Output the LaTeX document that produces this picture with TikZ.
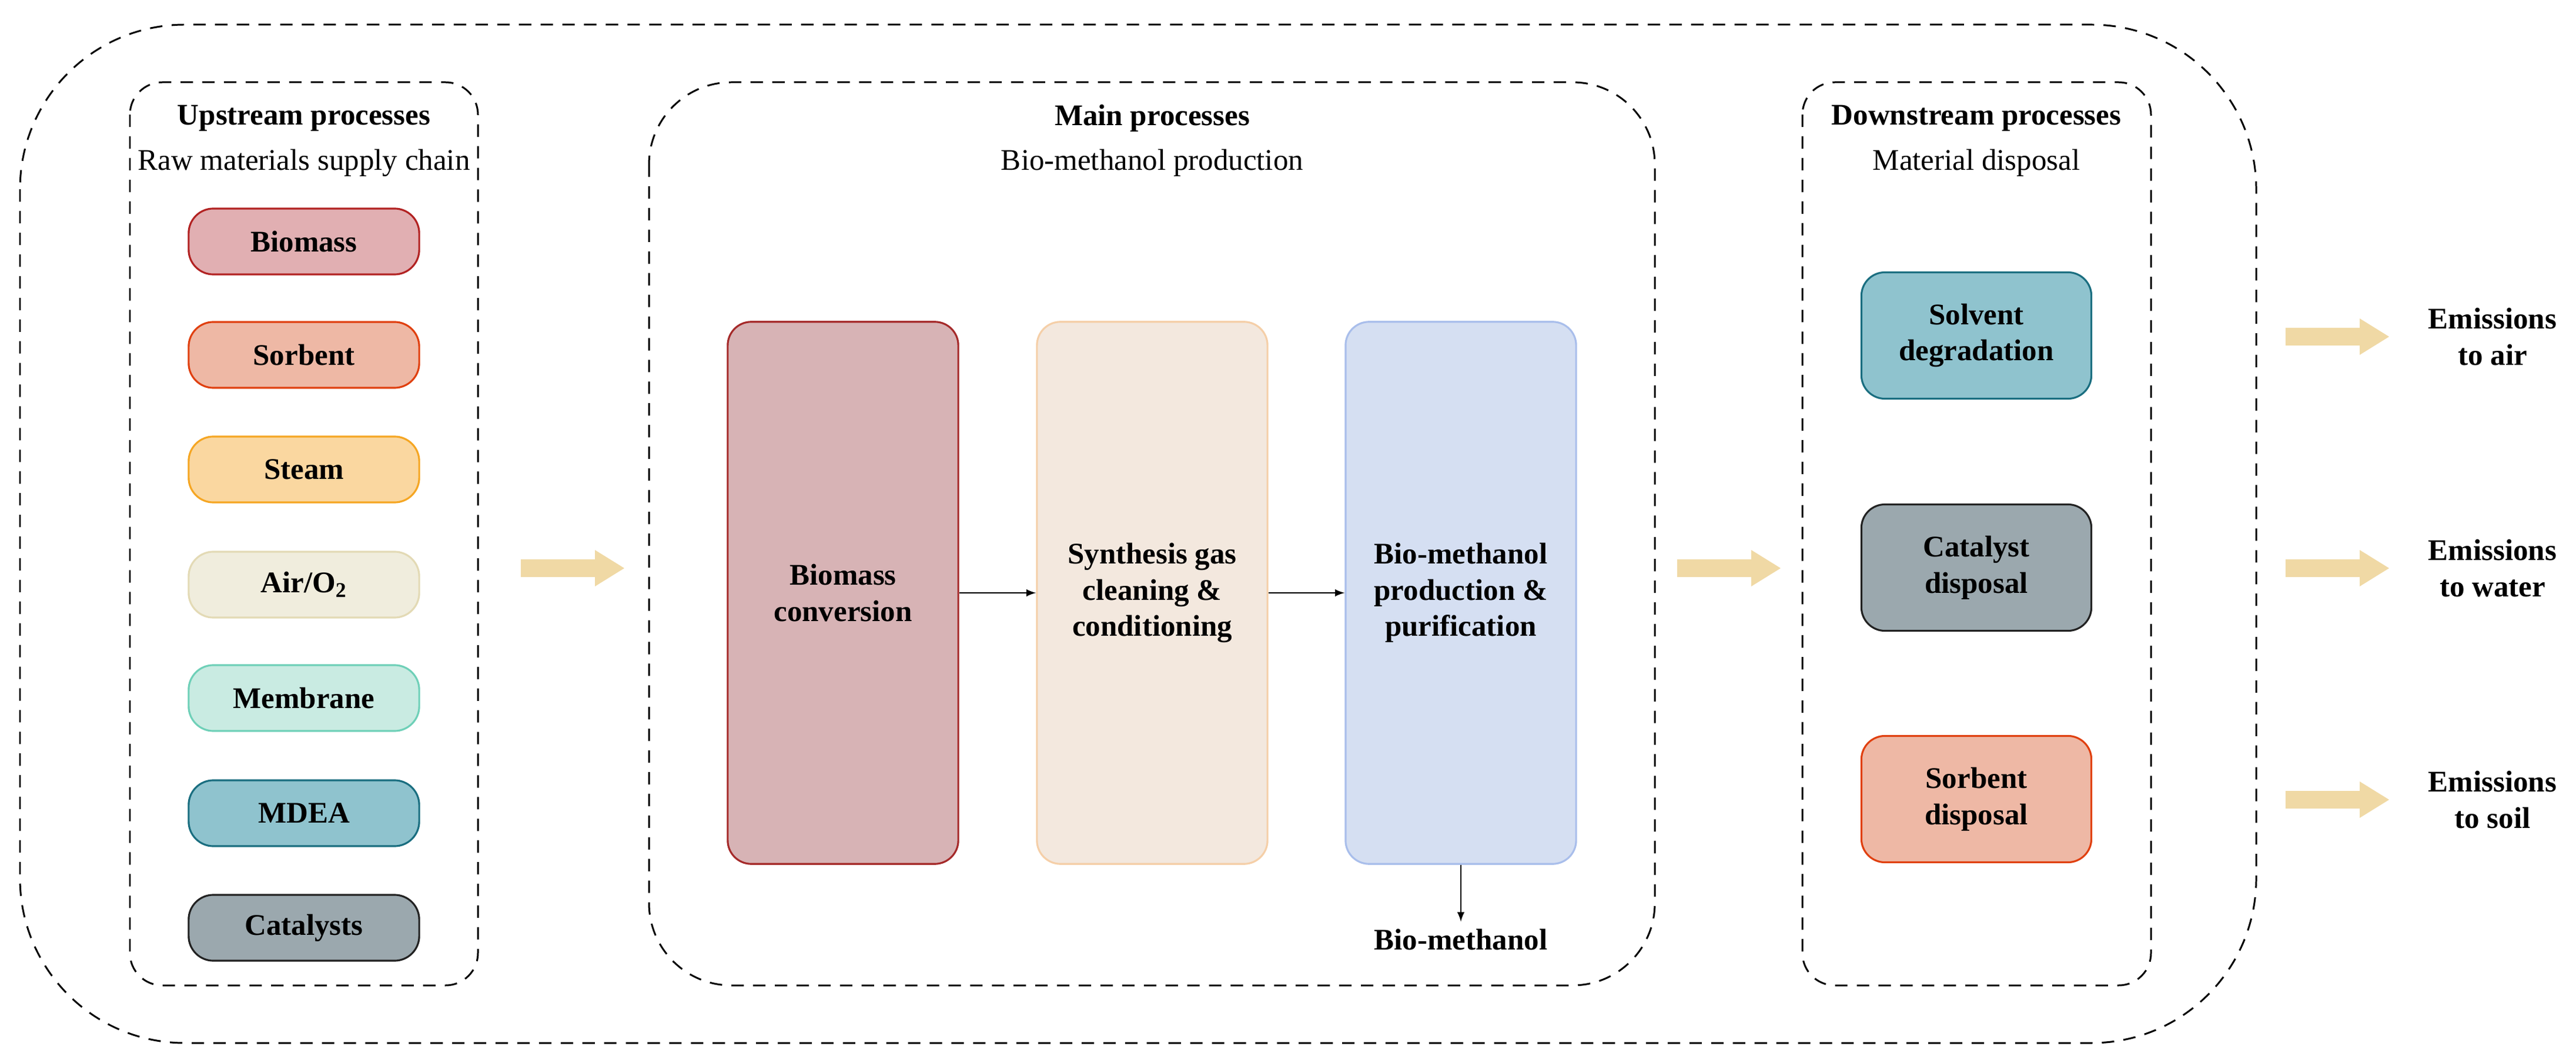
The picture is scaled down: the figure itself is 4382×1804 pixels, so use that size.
\documentclass[tikz,border=0pt]{standalone}
\usepackage{fontspec}
\setmainfont{Liberation Serif}
\definecolor{arr}{HTML}{F0D9A5}
\definecolor{f1}{HTML}{E1AFB2}\definecolor{s1}{HTML}{B22222}
\definecolor{f2}{HTML}{EEB8A5}\definecolor{s2}{HTML}{E04010}
\definecolor{f3}{HTML}{FAD7A0}\definecolor{s3}{HTML}{F5A623}
\definecolor{f4}{HTML}{F0EDDD}\definecolor{s4}{HTML}{E3DAB5}
\definecolor{f5}{HTML}{C9EBE2}\definecolor{s5}{HTML}{6FD0B8}
\definecolor{f6}{HTML}{8FC3CE}\definecolor{s6}{HTML}{1A6E80}
\definecolor{f7}{HTML}{9BA8AE}\definecolor{s7}{HTML}{222222}
\definecolor{g1}{HTML}{D7B3B5}\definecolor{h1}{HTML}{A52A2A}
\definecolor{g2}{HTML}{F3E8DE}\definecolor{h2}{HTML}{F5CFA8}
\definecolor{g3}{HTML}{D5DFF2}\definecolor{h3}{HTML}{A9BEEB}
\begin{document}
\begin{tikzpicture}[x=0.01cm,y=-0.01cm,
  fnt/.style={font=\fontsize{14.5}{17.5}\selectfont\bfseries},
  grp/.style={draw=black,line width=0.85pt,dash pattern=on 6pt off 4.5pt},
  sm/.style={fnt,draw,line width=0.9pt,rounded corners=0.42cm,minimum width=3.92cm,minimum height=1.12cm,align=center},
  big/.style={fnt,draw,line width=0.9pt,rounded corners=0.4cm,minimum width=3.92cm,minimum height=9.22cm,align=center},
  dn/.style={fnt,draw,line width=0.9pt,rounded corners=0.4cm,minimum width=3.91cm,minimum height=2.15cm,align=center},
  lbl/.style={fnt,align=center},
  ttl/.style={fnt},
  sub/.style={font=\fontsize{14.5}{17.5}\selectfont},
  ar/.style={-latex,line width=0.6pt}]
\useasboundingbox (0,0) rectangle (4382,1804);
\draw[grp,rounded corners=2.8cm] (34,42) rectangle (3838,1775);
\draw[grp,rounded corners=0.55cm] (221,140) rectangle (813,1677);
\draw[grp,rounded corners=1.4cm] (1104,140) rectangle (2815,1677);
\draw[grp,rounded corners=0.55cm] (3066,140) rectangle (3659,1677);
\node[ttl] (t1) at (517,201) {Upstream processes};
\node[sub] (sb1) at (517,277) {Raw materials supply chain};
\node[ttl] (t2) at (1960,201) {Main processes};
\node[sub] (sb2) at (1960,277) {Bio-methanol production};
\node[ttl] (t3) at (3362,201) {Downstream processes};
\node[sub] (sb3) at (3362,277) {Material disposal};
\node[sm,fill=f1,draw=s1] (u1) at (517,411) {Biomass};
\node[sm,fill=f2,draw=s2] (u2) at (517,604) {Sorbent};
\node[sm,fill=f3,draw=s3] (u3) at (517,799) {Steam};
\node[sm,fill=f4,draw=s4] (u4) at (517,995) {Air/O\textsubscript{2}};
\node[sm,fill=f5,draw=s5] (u5) at (517,1188) {Membrane};
\node[sm,fill=f6,draw=s6] (u6) at (517,1384) {MDEA};
\node[sm,fill=f7,draw=s7] (u7) at (517,1579) {Catalysts};
\node[big,fill=g1,draw=h1] (m1) at (1434,1009) {Biomass\\conversion};
\node[big,fill=g2,draw=h2] (m2) at (1960,1009) {Synthesis gas\\cleaning \&\\conditioning};
\node[big,fill=g3,draw=h3] (m3) at (2485,1009) {Bio-methanol\\production \&\\purification};
\draw[ar] (m1) -- (m2);
\draw[ar] (m2) -- (m3);
\node[lbl] (bm) at (2485,1599) {Bio-methanol};
\draw[ar] (m3.south) -- (bm.north);
\node[dn,fill=f6,draw=s6] (d1) at (3362,571) {Solvent\\degradation};
\node[dn,fill=f7,draw=s7] (d2) at (3362,966) {Catalyst\\disposal};
\node[dn,fill=f2,draw=s2] (d3) at (3362,1360) {Sorbent\\disposal};
\foreach \x/\y in {886/967,2853/967,3888/573,3888/967,3888/1361}{
  \fill[arr] (\x,\y-15) -- (\x+126,\y-15) -- (\x+126,\y-31) -- (\x+176,\y) -- (\x+126,\y+31) -- (\x+126,\y+15) -- (\x,\y+15) -- cycle;}
\node[lbl] (e1) at (4240,573) {Emissions\\to air};
\node[lbl] (e2) at (4240,967) {Emissions\\to water};
\node[lbl] (e3) at (4240,1361) {Emissions\\to soil};
\end{tikzpicture}
\end{document}
